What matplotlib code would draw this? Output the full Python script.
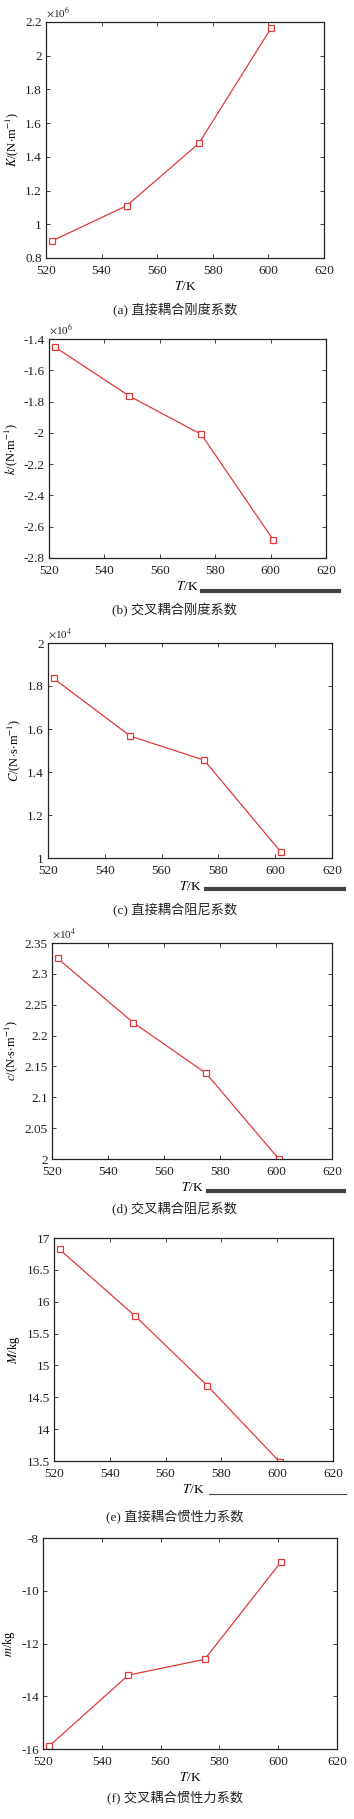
import matplotlib
matplotlib.use("Agg")
import matplotlib.pyplot as plt
from matplotlib.lines import Line2D
from matplotlib.ticker import FuncFormatter

plt.rcParams['font.family'] = ['Liberation Serif', 'Noto Sans CJK SC']
plt.rcParams['mathtext.fontset'] = 'stix'

W, H = 354, 1819

# temperature (K)
T = [522, 549, 575, 601]
T_c = [522, 549, 575, 602]

# coefficients
K_vals = [0.90, 1.11, 1.48, 2.165]        # x1e6
k_vals = [-1.45, -1.765, -2.01, -2.685]   # x1e6
C_vals = [1.835, 1.567, 1.455, 1.028]     # x1e4
c_vals = [2.325, 2.221, 2.139, 2.0]       # x1e4
M_vals = [16.82, 15.78, 14.68, 13.48]
m_vals = [-15.9, -13.2, -12.6, -8.9]

captions = ['(a) 直接耦合刚度系数', '(b) 交叉耦合刚度系数', '(c) 直接耦合阻尼系数',
            '(d) 交叉耦合阻尼系数', '(e) 直接耦合惯性力系数', '(f) 交叉耦合惯性力系数']
ylabels = [r'$K$/(N$\cdot$m$^{-1}$)', r'$k$/(N$\cdot$m$^{-1}$)',
           r'$C$/(N$\cdot$s$\cdot$m$^{-1}$)', r'$c$/(N$\cdot$s$\cdot$m$^{-1}$)',
           r'$M$/kg', r'$m$/kg']
offsets = [r'$\times$10$^6$', r'$\times$10$^6$', r'$\times$10$^4$', r'$\times$10$^4$', None, None]
yticks = [[0.8, 1, 1.2, 1.4, 1.6, 1.8, 2, 2.2],
          [-2.8, -2.6, -2.4, -2.2, -2, -1.8, -1.6, -1.4],
          [1, 1.2, 1.4, 1.6, 1.8, 2],
          [2, 2.05, 2.1, 2.15, 2.2, 2.25, 2.3, 2.35],
          [13.5, 14, 14.5, 15, 15.5, 16, 16.5, 17],
          [-16, -14, -12, -10, -8]]
xticks = [520, 540, 560, 580, 600, 620]

series = [(T, K_vals), (T, k_vals), (T_c, C_vals), (T, c_vals), (T, M_vals), (T, m_vals)]

# axes boxes in pixels: left, top, right, bottom
boxes = [(46, 22, 324, 258), (49, 339, 326, 558), (48, 643, 332, 858),
         (52, 943, 332, 1159), (54, 1238, 333, 1461), (43, 1538, 337, 1749)]
# stray scan bars under some panels: x0, x1, y, width
bars = [None, (202, 339, 591, 3.0), (206, 344, 889, 3.0), (208, 344, 1191, 3.0),
        (209, 346, 1494, 0.8), None]
cap_y = [310, 610, 909, 1208, 1516, 1797]

fig = plt.figure(figsize=(W / 100, H / 100), dpi=100)
red = '#e03a3a'
fmt = FuncFormatter(lambda v, p: '%g' % round(v, 4))

for i in range(6):
    l, t, r, b = boxes[i]
    ax = fig.add_axes([l / W, 1 - b / H, (r - l) / W, (b - t) / H])
    x, y = series[i]
    ax.plot(x, y, color=red, lw=0.9, marker='s', ms=4.5, mfc='white', mec=red, mew=0.9)
    ax.set_xlim(520, 620)
    ax.set_ylim(yticks[i][0], yticks[i][-1])
    ax.set_xticks(xticks)
    ax.set_yticks(yticks[i])
    ax.yaxis.set_major_formatter(fmt)
    ax.tick_params(direction='in', top=True, right=True, length=3, width=0.6,
                   labelsize=9.5, colors='#222222')
    ax.tick_params(axis='x', pad=5)
    ax.tick_params(axis='y', pad=3)
    for s in ax.spines.values():
        s.set_linewidth(0.9)
        s.set_color('#222222')
    ax.set_xlabel(r'$T$/K', fontsize=9.5, labelpad=2)
    ax.set_ylabel(ylabels[i], fontsize=9, labelpad=3)
    if offsets[i]:
        ax.text(0.0, 1.01, offsets[i], transform=ax.transAxes, fontsize=8,
                ha='left', va='bottom', color='#222222')
    if bars[i]:
        x0, x1, yb, w = bars[i]
        fig.add_artist(Line2D([x0 / W, x1 / W], [1 - yb / H, 1 - yb / H],
                              color='#444444', lw=w, transform=fig.transFigure))
    fig.text(175 / W, 1 - cap_y[i] / H, captions[i], fontsize=9.5, ha='center',
             va='center', color='#222222')

fig.savefig('out.png', dpi=100)
